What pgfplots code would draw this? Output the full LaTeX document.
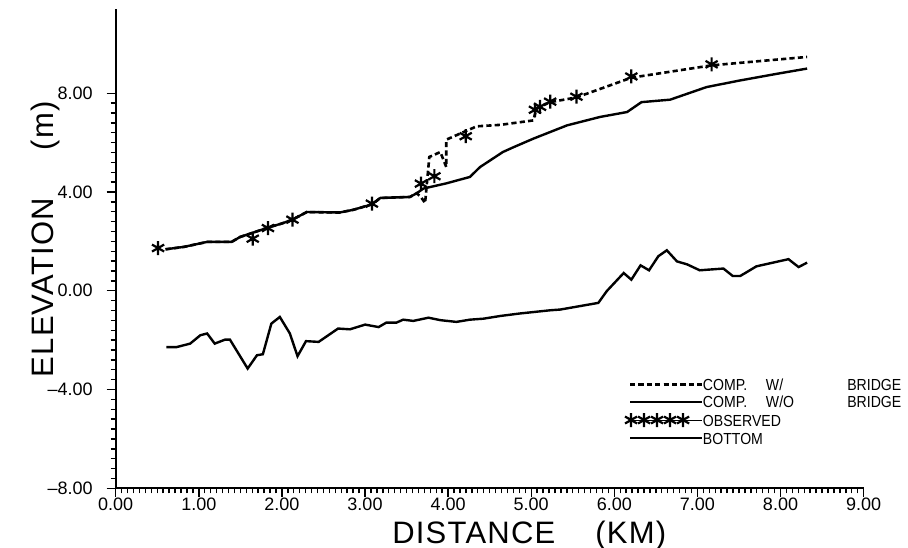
\documentclass[border=0pt]{standalone}
\usepackage{pgfplots}
\pgfplotsset{compat=1.18}
\usepackage{fontspec}
\setmainfont{Liberation Sans}
\newfontfamily\labelfont[LetterSpace=4]{Liberation Sans}
\newfontfamily\keyfont[FakeStretch=0.88]{Liberation Sans}

% key samples: a short line, and a row of five asterisks
\pgfplotsset{
  starkey/.style={legend image code/.code={%
    \draw[##1] plot coordinates {(0.5pt,0pt) (7pt,0pt) (13.5pt,0pt) (20pt,0pt) (26.5pt,0pt)};
    \path (0pt,0pt) -- (35.8pt,0pt);}},
  linekey/.style={legend image code/.code={%
    \draw[##1] (0pt,0pt) -- (27.5pt,0pt);
    \path (0pt,0pt) -- (35.8pt,0pt);}},
}

% water surface computed with the bridge in place
\pgfplotstableread{
x y
0.600 1.68
0.825 1.78
1.100 1.98
1.395 1.98
1.497 2.18
1.659 2.36
1.832 2.56
1.995 2.72
2.127 2.88
2.300 3.19
2.696 3.17
2.859 3.28
3.083 3.50
3.185 3.76
3.540 3.80
3.622 3.95
3.673 3.80
3.723 3.55
3.774 5.42
3.907 5.62
3.978 5.01
3.978 6.12
4.140 6.36
4.344 6.66
4.629 6.72
5.025 6.90
5.066 7.40
5.228 7.64
5.544 7.83
6.205 8.63
7.171 9.13
7.740 9.30
8.320 9.47
}\withbridge

% water surface computed without the bridge
\pgfplotstableread{
x y
0.600 1.68
0.825 1.78
1.100 1.98
1.395 1.98
1.497 2.18
1.659 2.36
1.832 2.56
1.995 2.72
2.127 2.88
2.300 3.19
2.696 3.17
2.859 3.28
3.083 3.50
3.185 3.76
3.540 3.80
3.622 3.95
3.703 4.14
3.978 4.35
4.262 4.61
4.384 5.01
4.659 5.62
4.791 5.82
5.025 6.16
5.432 6.70
5.828 7.04
6.154 7.24
6.327 7.64
6.672 7.74
7.110 8.25
7.516 8.52
7.944 8.78
8.320 9.00
}\withoutbridge

% observed high-water marks
\pgfplotstableread{
x y
0.510 1.73
1.649 2.11
1.832 2.54
2.127 2.88
3.083 3.53
3.673 4.34
3.835 4.64
4.212 6.26
5.045 7.33
5.106 7.45
5.228 7.66
5.544 7.86
6.205 8.68
7.171 9.17
}\observed

% channel bottom profile
\pgfplotstableread{
x y
0.610 -2.28
0.733 -2.28
0.896 -2.14
1.019 -1.80
1.100 -1.73
1.192 -2.14
1.314 -1.98
1.375 -1.98
1.588 -3.15
1.700 -2.61
1.771 -2.57
1.873 -1.33
1.975 -1.06
2.096 -1.73
2.188 -2.65
2.290 -2.04
2.442 -2.07
2.676 -1.53
2.819 -1.56
3.002 -1.37
3.164 -1.47
3.256 -1.29
3.378 -1.29
3.459 -1.17
3.581 -1.22
3.764 -1.09
3.907 -1.19
4.100 -1.26
4.262 -1.17
4.425 -1.13
4.629 -1.02
4.862 -0.92
5.228 -0.79
5.350 -0.76
5.808 -0.49
5.910 -0.01
6.113 0.72
6.205 0.45
6.316 1.03
6.418 0.83
6.530 1.40
6.632 1.64
6.754 1.19
6.876 1.07
7.028 0.83
7.313 0.90
7.425 0.60
7.516 0.60
7.710 0.99
8.096 1.28
8.218 0.96
8.320 1.14
}\bottom

\begin{document}
\begin{tikzpicture}
\useasboundingbox (0pt,0pt) rectangle (454pt,273.5pt);
\begin{axis}[
  at={(57.85pt,29.35pt)}, anchor=south west,
  scale only axis, width=373.95pt, height=239.5pt,
  xmin=0, xmax=9, ymin=-8, ymax=11.4,
  axis lines=left, axis line style={-, line width=1pt},
  tick align=outside,
  major tick length=4.5pt, minor tick length=2.5pt,
  tick style={line width=0.7pt, black},
  xtick={0,1,2,3,4,5,6,7,8,9},
  xticklabels={0.00,1.00,2.00,3.00,4.00,5.00,6.00,7.00,8.00,9.00},
  minor x tick num=13,
  ytick={-8,-4,0,4,8},
  yticklabels={{\textendash8.00},{\textendash4.00},0.00,4.00,8.00},
  minor y tick num=9,
  ticklabel style={font=\fontsize{9}{10}\selectfont},
  xticklabel shift=-3pt,
  yticklabel shift=3.5pt,
  xlabel={\labelfont DISTANCE\hspace{20pt}(KM)},
  ylabel={\labelfont ELEVATION\hspace{24pt}(m)},
  label style={font=\fontsize{15.5}{17}\selectfont},
  xlabel style={at={(axis description cs:0.553,-0.098)}, anchor=center},
  ylabel style={at={(axis description cs:-0.0945,0.52)}, anchor=center},
  legend style={at={(axis description cs:0.681,0.229)}, anchor=north west,
    draw=none, fill=none, inner sep=0pt, outer sep=0pt, row sep=2.6pt,
    font=\keyfont\fontsize{8}{9}\selectfont,
    nodes={inner sep=0pt, text height=6pt, text depth=0pt}},
  legend cell align=left,
]
\addplot[black, line width=1.3pt, dash pattern=on 2.6pt off 1.6pt, linekey] table {\withbridge};
\addlegendentry{\makebox[31.5pt][l]{COMP.}\makebox[40.65pt][l]{W/}BRIDGE}
\addplot[black, line width=1.2pt, linekey] table {\withoutbridge};
\addlegendentry{\makebox[31.5pt][l]{COMP.}\makebox[40.65pt][l]{W/O}BRIDGE}
\addplot[black, only marks, mark=asterisk, mark size=3.5pt, mark options={line width=1.1pt}, starkey]
  table {\observed};
\addlegendentry{OBSERVED}
\addplot[black, line width=1.2pt, linekey] table {\bottom};
\addlegendentry{BOTTOM}
\end{axis}
\end{tikzpicture}
\end{document}
